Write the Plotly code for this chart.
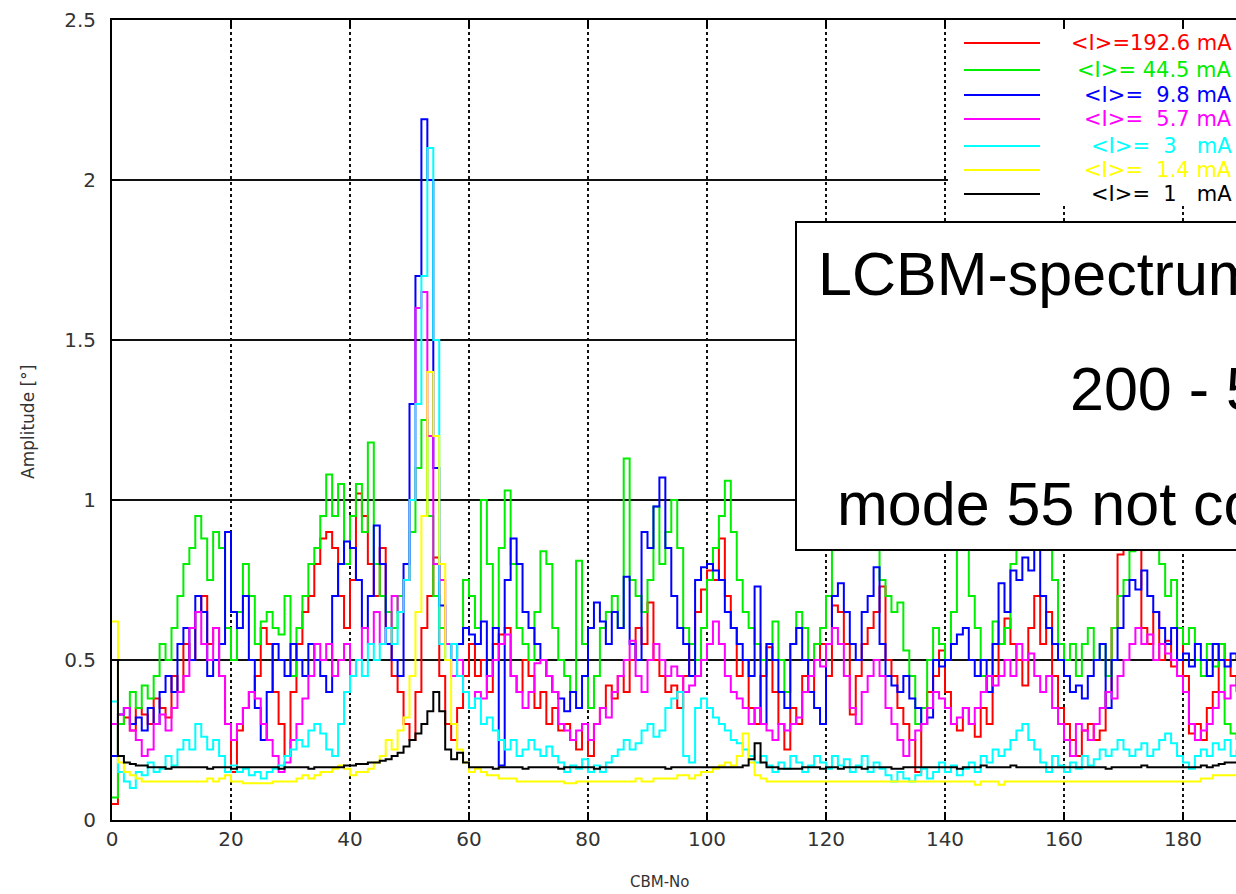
import plotly.graph_objects as go

# ---------------- data ----------------
cbm = list(range(190))

i_192 = [0.05, 0.30, 0.32, 0.28, 0.35, 0.33, 0.30, 0.38, 0.35, 0.32,
         0.45, 0.40, 0.55, 0.50, 0.65, 0.70, 0.55, 0.60, 0.45, 0.30,
         0.15, 0.28, 0.35, 0.40, 0.45, 0.60, 0.55, 0.40, 0.30, 0.20,
         0.40, 0.55, 0.65, 0.70, 0.80, 0.88, 0.90, 0.85, 0.70, 0.60,
         0.75, 1.02, 0.95, 0.80, 0.70, 0.85, 0.60, 0.45, 0.40, 0.30,
         0.25, 0.40, 0.60, 0.70, 0.82, 0.45, 0.30, 0.25, 0.35, 0.45,
         0.55, 0.45, 0.50, 0.40, 0.55, 0.58, 0.60, 0.45, 0.40, 0.50,
         0.45, 0.35, 0.40, 0.30, 0.35, 0.28, 0.30, 0.25, 0.22, 0.30,
         0.20, 0.30, 0.35, 0.42, 0.38, 0.45, 0.40, 0.50, 0.60, 0.55,
         0.68, 0.50, 0.45, 0.40, 0.42, 0.35, 0.45, 0.55, 0.65, 0.72,
         0.78, 0.75, 0.88, 0.70, 0.60, 0.45, 0.50, 0.35, 0.30, 0.45,
         0.54, 0.40, 0.30, 0.22, 0.35, 0.30, 0.45, 0.40, 0.50, 0.55,
         0.45, 0.67, 0.65, 0.55, 0.33, 0.45, 0.55, 0.60, 0.65, 0.73,
         0.50, 0.45, 0.35, 0.30, 0.25, 0.15, 0.30, 0.40, 0.45, 0.53,
         0.40, 0.30, 0.28, 0.35, 0.30, 0.26, 0.35, 0.30, 0.45, 0.55,
         0.63, 0.55, 0.50, 0.42, 0.60, 0.70, 0.55, 0.65, 0.45, 0.35,
         0.30, 0.25, 0.20, 0.28, 0.30, 0.25, 0.28, 0.40, 0.60, 0.83,
         0.95, 1.00, 0.90, 0.60, 0.55, 0.65, 0.50, 0.56, 0.48, 0.60,
         0.45, 0.27, 0.30, 0.25, 0.35, 0.40, 0.55, 0.50, 0.45, 0.40]

i_44 = [0.07, 0.30, 0.35, 0.40, 0.35, 0.42, 0.38, 0.45, 0.55, 0.50,
        0.60, 0.70, 0.80, 0.85, 0.95, 0.88, 0.75, 0.90, 0.85, 0.60,
        0.50, 0.65, 0.80, 0.70, 0.55, 0.62, 0.65, 0.60, 0.58, 0.70,
        0.45, 0.60, 0.70, 0.80, 0.85, 0.95, 1.08, 0.95, 1.05, 0.80,
        0.95, 1.05, 0.90, 1.18, 0.80, 0.70, 0.65, 0.60, 0.70, 0.75,
        0.90, 1.10, 1.25, 0.95, 0.70, 0.60, 0.55, 0.50, 0.55, 0.75,
        0.70, 0.60, 1.00, 0.80, 0.60, 0.85, 1.03, 0.80, 0.60, 0.55,
        0.50, 0.65, 0.84, 0.80, 0.60, 0.50, 0.45, 0.40, 0.81, 0.55,
        0.35, 0.45, 0.60, 0.65, 0.70, 0.60, 1.13, 0.75, 0.70, 0.65,
        0.75, 0.98, 0.80, 0.90, 1.00, 0.85, 0.60, 0.55, 0.50, 0.60,
        0.75, 0.85, 0.95, 1.06, 0.90, 0.75, 0.65, 0.60, 0.55, 0.50,
        0.55, 0.62, 0.50, 0.40, 0.55, 0.65, 0.60, 0.45, 0.55, 0.60,
        0.70, 0.90, 1.00, 0.85, 0.95, 1.00, 0.90, 0.85, 0.95, 0.75,
        0.70, 0.65, 0.68, 0.53, 0.45, 0.30, 0.35, 0.50, 0.60, 0.55,
        0.50, 0.65, 1.00, 0.95, 0.70, 0.60, 0.45, 0.40, 0.62, 0.55,
        0.60, 0.80, 0.95, 1.05, 0.90, 1.00, 0.85, 0.95, 0.75, 0.55,
        0.50, 0.55, 0.45, 0.55, 0.60, 0.50, 0.55, 0.45, 0.60, 0.70,
        0.75, 0.84, 0.95, 1.00, 0.90, 0.85, 0.80, 0.70, 0.75, 0.60,
        0.55, 0.60, 0.50, 0.45, 0.55, 0.48, 0.55, 0.30, 0.27, 0.25]

i_9 = [0.20, 0.33, 0.35, 0.30, 0.32, 0.28, 0.35, 0.30, 0.40, 0.45,
       0.40, 0.55, 0.60, 0.50, 0.70, 0.65, 0.45, 0.50, 0.55, 0.90,
       0.65, 0.60, 0.70, 0.50, 0.35, 0.25, 0.40, 0.55, 0.50, 0.45,
       0.55, 0.50, 0.45, 0.55, 0.50, 0.45, 0.40, 0.70, 0.80, 0.87,
       0.85, 0.75, 0.60, 0.70, 0.92, 0.80, 0.55, 0.50, 0.45, 0.80,
       1.30, 1.70, 2.19, 2.00, 1.10, 0.67, 0.55, 0.50, 0.55, 0.60,
       0.58, 0.55, 0.62, 0.45, 0.60, 0.17, 0.75, 0.88, 0.80, 0.65,
       0.60, 0.55, 0.50, 0.45, 0.40, 0.38, 0.34, 0.40, 0.35, 0.45,
       0.60, 0.68, 0.62, 0.55, 0.65, 0.60, 0.76, 0.55, 0.50, 0.90,
       0.85, 0.98, 1.07, 0.85, 0.70, 0.60, 0.55, 0.45, 0.75, 0.79,
       0.80, 0.78, 0.75, 0.65, 0.60, 0.55, 0.50, 0.45, 0.73, 0.30,
       0.55, 0.50, 0.40, 0.35, 0.55, 0.60, 0.50, 0.40, 0.35, 0.30,
       0.55, 0.70, 0.74, 0.65, 0.55, 0.50, 0.65, 0.70, 0.79, 0.55,
       0.45, 0.42, 0.40, 0.45, 0.38, 0.35, 0.30, 0.32, 0.50, 0.48,
       0.50, 0.55, 0.58, 0.60, 0.50, 0.45, 0.50, 0.40, 0.55, 0.74,
       0.65, 0.78, 0.75, 0.82, 0.78, 0.85, 0.70, 0.60, 0.55, 0.50,
       0.45, 0.40, 0.42, 0.38, 0.45, 0.50, 0.55, 0.35, 0.50, 0.60,
       0.70, 0.75, 0.72, 0.78, 0.70, 0.65, 0.60, 0.55, 0.60, 0.50,
       0.52, 0.48, 0.55, 0.50, 0.45, 0.55, 0.50, 0.48, 0.52, 0.50]

i_5 = [0.30, 0.33, 0.35, 0.28, 0.25, 0.20, 0.22, 0.30, 0.33, 0.28,
       0.35, 0.40, 0.45, 0.60, 0.65, 0.55, 0.50, 0.60, 0.45, 0.30,
       0.25, 0.30, 0.35, 0.40, 0.38, 0.30, 0.25, 0.20, 0.15, 0.18,
       0.25, 0.30, 0.38, 0.45, 0.55, 0.50, 0.55, 0.45, 0.50, 0.55,
       0.45, 0.50, 0.60, 0.55, 0.65, 0.55, 0.60, 0.70, 0.65, 0.75,
       1.00, 1.60, 1.65, 1.20, 0.80, 0.75, 0.55, 0.45, 0.50, 0.40,
       0.35, 0.40, 0.38, 0.45, 0.50, 0.55, 0.58, 0.45, 0.40, 0.35,
       0.40, 0.49, 0.50, 0.45, 0.40, 0.30, 0.28, 0.25, 0.28, 0.30,
       0.25, 0.30, 0.35, 0.32, 0.40, 0.45, 0.50, 0.56, 0.45, 0.40,
       0.50, 0.55, 0.50, 0.45, 0.48, 0.45, 0.40, 0.42, 0.45, 0.50,
       0.55, 0.62, 0.55, 0.45, 0.40, 0.38, 0.35, 0.30, 0.35, 0.30,
       0.28, 0.25, 0.30, 0.28, 0.30, 0.32, 0.40, 0.45, 0.50, 0.48,
       0.55, 0.60, 0.55, 0.45, 0.35, 0.30, 0.40, 0.45, 0.50, 0.45,
       0.35, 0.30, 0.25, 0.20, 0.25, 0.28, 0.30, 0.35, 0.40, 0.38,
       0.35, 0.30, 0.32, 0.35, 0.30, 0.35, 0.40, 0.45, 0.42, 0.45,
       0.50, 0.45, 0.55, 0.50, 0.52, 0.45, 0.40, 0.45, 0.35, 0.30,
       0.25, 0.20, 0.30, 0.28, 0.25, 0.30, 0.35, 0.40, 0.38, 0.45,
       0.50, 0.55, 0.60, 0.55, 0.58, 0.50, 0.55, 0.52, 0.50, 0.45,
       0.40, 0.30, 0.25, 0.28, 0.30, 0.35, 0.40, 0.38, 0.42, 0.45]

i_3 = [0.37, 0.15, 0.12, 0.10, 0.15, 0.14, 0.18, 0.15, 0.16, 0.20,
       0.17, 0.22, 0.25, 0.22, 0.30, 0.26, 0.22, 0.25, 0.20, 0.15,
       0.17, 0.15, 0.16, 0.14, 0.15, 0.13, 0.15, 0.16, 0.17, 0.20,
       0.22, 0.25, 0.23, 0.28, 0.30, 0.27, 0.22, 0.20, 0.30, 0.40,
       0.45, 0.50, 0.45, 0.55, 0.50, 0.55, 0.60, 0.55, 0.65, 0.75,
       1.00, 1.30, 1.70, 2.10, 1.50, 0.55, 0.50, 0.55, 0.45, 0.40,
       0.35, 0.38, 0.30, 0.32, 0.28, 0.25, 0.22, 0.25, 0.20, 0.22,
       0.25, 0.22, 0.20, 0.23, 0.20, 0.18, 0.15, 0.17, 0.16, 0.19,
       0.15, 0.17, 0.15, 0.18, 0.20, 0.22, 0.25, 0.22, 0.24, 0.28,
       0.30, 0.26, 0.28, 0.35, 0.38, 0.40, 0.20, 0.18, 0.35, 0.38,
       0.35, 0.32, 0.30, 0.28, 0.25, 0.24, 0.22, 0.20, 0.18, 0.20,
       0.17, 0.15, 0.18, 0.16, 0.20, 0.18, 0.15, 0.17, 0.20, 0.18,
       0.16, 0.20, 0.17, 0.19, 0.15, 0.17, 0.20, 0.15, 0.18, 0.16,
       0.14, 0.12, 0.15, 0.13, 0.12, 0.14, 0.16, 0.13, 0.15, 0.18,
       0.15, 0.17, 0.14, 0.16, 0.18, 0.15, 0.20, 0.18, 0.22, 0.20,
       0.22, 0.25, 0.28, 0.30, 0.25, 0.22, 0.18, 0.15, 0.20, 0.17,
       0.15, 0.18, 0.16, 0.20, 0.17, 0.19, 0.22, 0.20, 0.22, 0.25,
       0.22, 0.20, 0.22, 0.24, 0.20, 0.22, 0.25, 0.27, 0.24, 0.20,
       0.18, 0.16, 0.20, 0.22, 0.20, 0.24, 0.22, 0.25, 0.20, 0.22]

i_1_4 = [0.62, 0.18, 0.15, 0.14, 0.13, 0.12, 0.12, 0.12, 0.12, 0.12,
         0.12, 0.12, 0.12, 0.12, 0.12, 0.12, 0.13, 0.12, 0.13, 0.14,
         0.12, 0.12, 0.115, 0.115, 0.115, 0.115, 0.115, 0.12, 0.12, 0.12,
         0.12, 0.13, 0.14, 0.13, 0.14, 0.15, 0.15, 0.16, 0.17, 0.16,
         0.14, 0.15, 0.15, 0.16, 0.18, 0.20, 0.25, 0.22, 0.28, 0.32,
         0.45, 0.65, 0.95, 1.40, 1.20, 0.80, 0.50, 0.30, 0.22, 0.18,
         0.15, 0.16, 0.15, 0.14, 0.14, 0.13, 0.13, 0.13, 0.12, 0.12,
         0.12, 0.12, 0.12, 0.12, 0.12, 0.12, 0.115, 0.115, 0.12, 0.12,
         0.12, 0.12, 0.12, 0.12, 0.12, 0.12, 0.12, 0.12, 0.13, 0.12,
         0.12, 0.13, 0.13, 0.13, 0.13, 0.14, 0.14, 0.13, 0.14, 0.15,
         0.15, 0.16, 0.17, 0.18, 0.17, 0.20, 0.27, 0.18, 0.14, 0.13,
         0.12, 0.12, 0.12, 0.12, 0.12, 0.12, 0.12, 0.12, 0.12, 0.12,
         0.12, 0.12, 0.12, 0.12, 0.12, 0.12, 0.12, 0.12, 0.12, 0.12,
         0.12, 0.12, 0.12, 0.12, 0.12, 0.12, 0.12, 0.12, 0.12, 0.12,
         0.12, 0.12, 0.12, 0.12, 0.12, 0.11, 0.12, 0.12, 0.12, 0.11,
         0.12, 0.12, 0.12, 0.12, 0.12, 0.12, 0.12, 0.12, 0.12, 0.12,
         0.12, 0.12, 0.12, 0.12, 0.12, 0.12, 0.12, 0.12, 0.12, 0.12,
         0.12, 0.12, 0.12, 0.12, 0.12, 0.12, 0.12, 0.12, 0.12, 0.12,
         0.12, 0.12, 0.12, 0.13, 0.13, 0.14, 0.14, 0.14, 0.14, 0.14]

i_1 = [0.50, 0.20, 0.18, 0.175, 0.17, 0.17, 0.165, 0.165, 0.165, 0.16,
       0.165, 0.165, 0.165, 0.165, 0.165, 0.165, 0.16, 0.165, 0.165, 0.165,
       0.16, 0.165, 0.165, 0.165, 0.165, 0.165, 0.165, 0.165, 0.16, 0.165,
       0.165, 0.165, 0.165, 0.16, 0.165, 0.165, 0.165, 0.165, 0.165, 0.17,
       0.17, 0.175, 0.175, 0.18, 0.18, 0.185, 0.19, 0.20, 0.21, 0.23,
       0.25, 0.27, 0.30, 0.34, 0.40, 0.34, 0.22, 0.19, 0.21, 0.18,
       0.165, 0.165, 0.165, 0.165, 0.16, 0.165, 0.165, 0.165, 0.165, 0.16,
       0.165, 0.165, 0.165, 0.165, 0.165, 0.16, 0.165, 0.165, 0.165, 0.165,
       0.165, 0.16, 0.165, 0.165, 0.165, 0.165, 0.165, 0.165, 0.165, 0.165,
       0.165, 0.165, 0.165, 0.16, 0.165, 0.165, 0.165, 0.165, 0.165, 0.165,
       0.165, 0.165, 0.165, 0.165, 0.165, 0.165, 0.17, 0.19, 0.24, 0.18,
       0.165, 0.165, 0.16, 0.16, 0.16, 0.16, 0.165, 0.165, 0.165, 0.16,
       0.165, 0.165, 0.16, 0.165, 0.165, 0.165, 0.16, 0.165, 0.165, 0.165,
       0.165, 0.16, 0.16, 0.165, 0.165, 0.165, 0.165, 0.165, 0.165, 0.165,
       0.165, 0.165, 0.16, 0.165, 0.165, 0.165, 0.17, 0.165, 0.165, 0.165,
       0.165, 0.17, 0.165, 0.165, 0.165, 0.165, 0.165, 0.165, 0.165, 0.165,
       0.165, 0.165, 0.165, 0.165, 0.165, 0.165, 0.165, 0.16, 0.165, 0.165,
       0.165, 0.165, 0.165, 0.17, 0.165, 0.165, 0.165, 0.165, 0.165, 0.165,
       0.165, 0.165, 0.165, 0.17, 0.165, 0.17, 0.175, 0.18, 0.18, 0.18]

series_values = [i_192, i_44, i_9, i_5, i_3, i_1_4, i_1]
series_labels = ["&lt;I&gt;=192.6 mA", "&lt;I&gt;=\u00a044.5 mA", "&lt;I&gt;=\u00a0\u00a09.8 mA",
                 "&lt;I&gt;=\u00a0\u00a05.7 mA", "&lt;I&gt;=\u00a0\u00a03\u00a0\u00a0\u00a0mA",
                 "&lt;I&gt;=\u00a0\u00a01.4 mA", "&lt;I&gt;=\u00a0\u00a01\u00a0\u00a0\u00a0mA"]
series_colors = ["#ff0000", "#00ee00", "#0000ff", "#ff00ff", "#00ffff", "#ffff00", "#000000"]

x_ticks = [0, 20, 40, 60, 80, 100, 120, 140, 160, 180]
y_ticks = [0, 0.5, 1, 1.5, 2, 2.5]
y_tick_text = ["0", "0.5", "1", "1.5", "2", "2.5"]

box_lines = ["LCBM-spectrum for different currents", "200 - 500 MHz", "mode 55 not corrected"]

# ---------------- geometry helpers (pixel -> paper) ----------------
W, H = 1236, 894
L, R, T, B = 112, 0, 20, 74
PW, PH = W - L - R, H - T - B


def px(xp):
    return (xp - L) / PW


def py(yp):
    return (H - B - yp) / PH


fig = go.Figure()
for vals, lab, col in zip(series_values, series_labels, series_colors):
    fig.add_trace(go.Scatter(x=cbm, y=vals, mode="lines", line_shape="hv",
                             line=dict(color=col, width=2), name=lab,
                             showlegend=False, cliponaxis=True))

shapes = []
annotations = []

# key (opaque) in the upper right
shapes.append(dict(type="rect", xref="paper", yref="paper", x0=px(948), x1=px(1245),
                   y0=py(205), y1=py(29), fillcolor="white", line=dict(width=0), layer="above"))
key_rows = [43, 70, 95, 119, 146, 170, 194]
for yy, lab, col in zip(key_rows, series_labels, series_colors):
    shapes.append(dict(type="line", xref="paper", yref="paper", x0=px(964), x1=px(1040),
                       y0=py(yy), y1=py(yy), line=dict(color=col, width=2), layer="above"))
    annotations.append(dict(xref="paper", yref="paper", x=px(1234), y=py(yy), xanchor="right",
                            yanchor="middle", text=lab, showarrow=False,
                            font=dict(family="DejaVu Sans", size=21, color=col)))

# text box
shapes.append(dict(type="rect", xref="paper", yref="paper", x0=px(796), x1=px(1300),
                   y0=py(550), y1=py(222), fillcolor="white",
                   line=dict(color="black", width=2), layer="above"))
for (xl, ym), txt in zip([(816, 274), (1068, 389), (835, 504)], box_lines):
    annotations.append(dict(xref="paper", yref="paper", x=px(xl), y=py(ym), xanchor="left",
                            yanchor="middle", text=txt, showarrow=False,
                            font=dict(family="Liberation Sans, Arial", size=61, color="black")))

# axis titles
annotations.append(dict(xref="paper", yref="paper", x=px(660), y=py(882), text="CBM-No",
                        showarrow=False, xanchor="center", yanchor="middle",
                        font=dict(family="DejaVu Sans", size=15, color="#333")))
annotations.append(dict(xref="paper", yref="paper", x=px(28), y=py(422), text="Amplitude [°]",
                        showarrow=False, xanchor="center", yanchor="middle", textangle=-90,
                        font=dict(family="DejaVu Sans", size=17, color="#333")))

fig.update_layout(
    width=W, height=H,
    margin=dict(l=L, r=R, t=T, b=B, pad=0),
    paper_bgcolor="white", plot_bgcolor="white",
    shapes=shapes, annotations=annotations,
    showlegend=False,
    xaxis=dict(range=[0, PW / 5.95], tickvals=x_ticks, ticktext=[str(v) for v in x_ticks],
               showgrid=True, gridcolor="#111", griddash="dot", gridwidth=2,
               showline=True, linecolor="black", linewidth=2, mirror="ticks",
               ticks="inside", ticklen=8, tickwidth=2, tickcolor="black",
               tickfont=dict(family="DejaVu Sans", size=20, color="#333"),
               zeroline=False, fixedrange=True),
    yaxis=dict(range=[0, 2.5], tickvals=y_ticks, ticktext=y_tick_text,
               showgrid=True, gridcolor="#111", gridwidth=2,
               showline=True, linecolor="black", linewidth=2, mirror=False,
               ticks="inside", ticklen=8, tickwidth=2, tickcolor="black",
               ticklabelstandoff=10,
               tickfont=dict(family="DejaVu Sans", size=20, color="#333"),
               zeroline=False, fixedrange=True),
)

fig.write_html("out.html", config={"displayModeBar": False},
               post_script="document.body.style.margin='0';")
